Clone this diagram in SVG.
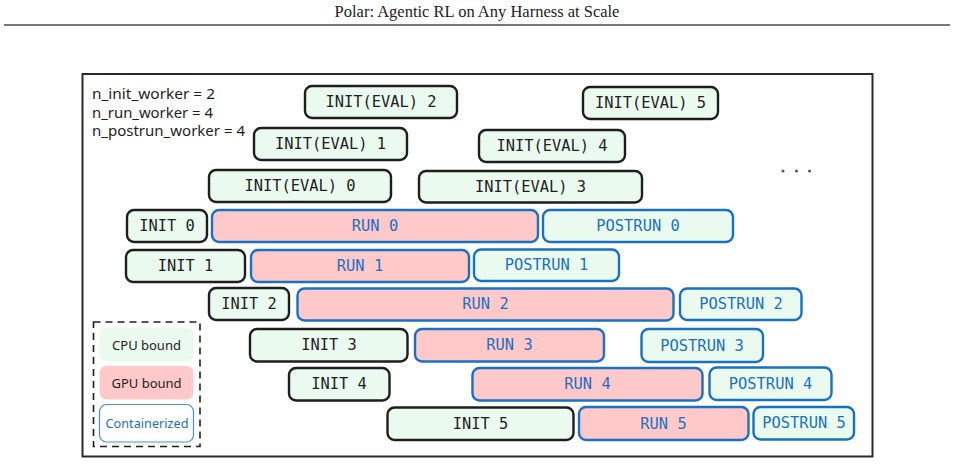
<svg xmlns="http://www.w3.org/2000/svg" width="955" height="465" viewBox="0 0 955 465">
<style>
.cpu{fill:#ebfaef;stroke:#1e1e1e;stroke-width:2.4}
.gpu{fill:#ffc9c9;stroke:#1971c2;stroke-width:2.4}
.post{fill:#ebfaef;stroke:#1971c2;stroke-width:2.4}
.t{font-family:"DejaVu Sans Mono","Liberation Mono",monospace;font-size:15.4px;text-anchor:middle;dominant-baseline:central}
.tk{fill:#1e1e1e}
.tb{fill:#1971c2}
.note{font-family:"Noto Sans","Liberation Sans",sans-serif;font-size:14px;fill:#1e1e1e}
.leg{font-family:"Noto Sans","Liberation Sans",sans-serif;font-size:13px;text-anchor:middle;dominant-baseline:central}
</style>
<rect width="955" height="465" fill="#ffffff"/>
<text x="477" y="17" font-family="Liberation Serif,serif" font-size="16.5" text-anchor="middle" fill="#222">Polar: Agentic RL on Any Harness at Scale</text>
<line x1="4" y1="25" x2="950" y2="25" stroke="#777" stroke-width="2"/>
<rect x="82.5" y="74" width="790" height="382.5" fill="none" stroke="#2a2a2a" stroke-width="2"/>
<g id="params">
<text class="note" x="92" y="99" textLength="123" lengthAdjust="spacingAndGlyphs">n_init_worker = 2</text>
<text class="note" x="92" y="117.5" textLength="121" lengthAdjust="spacingAndGlyphs">n_run_worker = 4</text>
<text class="note" x="92" y="135.5" textLength="153" lengthAdjust="spacingAndGlyphs">n_postrun_worker = 4</text>
</g>
<g id="eval2"><rect class="cpu" x="305" y="86" width="152" height="32" rx="7"/><text class="t tk" x="381" y="102">INIT(EVAL) 2</text></g>
<g id="eval5"><rect class="cpu" x="583" y="87" width="135" height="32" rx="7"/><text class="t tk" x="650.5" y="103">INIT(EVAL) 5</text></g>
<g id="eval1"><rect class="cpu" x="254" y="128" width="153" height="32" rx="7"/><text class="t tk" x="330.5" y="144">INIT(EVAL) 1</text></g>
<g id="eval4"><rect class="cpu" x="479" y="130" width="146" height="32" rx="7"/><text class="t tk" x="552" y="146">INIT(EVAL) 4</text></g>
<g id="eval0"><rect class="cpu" x="209" y="170" width="182" height="32" rx="7"/><text class="t tk" x="300" y="186">INIT(EVAL) 0</text></g>
<g id="eval3"><rect class="cpu" x="419" y="171" width="223" height="31.5" rx="7"/><text class="t tk" x="530.5" y="187">INIT(EVAL) 3</text></g>
<g id="ellipsis" fill="#555"><circle cx="783" cy="171" r="1.5"/><circle cx="796.5" cy="171" r="1.5"/><circle cx="809.5" cy="171" r="1.5"/></g>

<g id="init0"><rect class="cpu" x="127" y="210" width="80" height="32" rx="7"/><text class="t tk" x="167" y="226">INIT 0</text></g>
<g id="run0"><rect class="gpu" x="212" y="210" width="326" height="32" rx="7"/><text class="t tb" x="375" y="226">RUN 0</text></g>
<g id="post0"><rect class="post" x="543" y="210" width="190" height="32" rx="7"/><text class="t tb" x="638" y="226">POSTRUN 0</text></g>

<g id="init1"><rect class="cpu" x="126" y="250" width="119" height="32" rx="7"/><text class="t tk" x="185.5" y="266">INIT 1</text></g>
<g id="run1"><rect class="gpu" x="251" y="250" width="218" height="32" rx="7"/><text class="t tb" x="360" y="266">RUN 1</text></g>
<g id="post1"><rect class="post" x="474" y="249.5" width="145" height="31.5" rx="7"/><text class="t tb" x="546.5" y="265">POSTRUN 1</text></g>

<g id="init2"><rect class="cpu" x="209" y="288" width="80" height="32" rx="7"/><text class="t tk" x="249" y="304">INIT 2</text></g>
<g id="run2"><rect class="gpu" x="297.5" y="288.5" width="376" height="32" rx="7"/><text class="t tb" x="485.5" y="304">RUN 2</text></g>
<g id="post2"><rect class="post" x="680" y="288.5" width="121.5" height="31.5" rx="7"/><text class="t tb" x="741" y="304">POSTRUN 2</text></g>

<g id="init3"><rect class="cpu" x="250" y="329" width="157.5" height="32.5" rx="7"/><text class="t tk" x="329" y="345">INIT 3</text></g>
<g id="run3"><rect class="gpu" x="415" y="329" width="189" height="32.5" rx="7"/><text class="t tb" x="509.5" y="345">RUN 3</text></g>
<g id="post3"><rect class="post" x="641.5" y="329" width="121.5" height="33" rx="7"/><text class="t tb" x="702" y="345.5">POSTRUN 3</text></g>

<g id="init4"><rect class="cpu" x="289" y="368" width="100.5" height="32.5" rx="7"/><text class="t tk" x="339" y="384">INIT 4</text></g>
<g id="run4"><rect class="gpu" x="472.5" y="368" width="230" height="32.5" rx="7"/><text class="t tb" x="587.5" y="384">RUN 4</text></g>
<g id="post4"><rect class="post" x="709.5" y="367.5" width="122" height="32.5" rx="7"/><text class="t tb" x="770.5" y="383.5">POSTRUN 4</text></g>

<g id="init5"><rect class="cpu" x="387.5" y="407.5" width="186" height="32.5" rx="7"/><text class="t tk" x="480.5" y="423.5">INIT 5</text></g>
<g id="run5"><rect class="gpu" x="579" y="407" width="169.5" height="33" rx="7"/><text class="t tb" x="663.5" y="423.5">RUN 5</text></g>
<g id="post5"><rect class="post" x="753.5" y="407" width="100.5" height="32.5" rx="7"/><text class="t tb" x="804" y="423">POSTRUN 5</text></g>

<g id="legend">
<rect x="93.5" y="322" width="106.5" height="124.5" fill="none" stroke="#1e1e1e" stroke-width="1.6" stroke-dasharray="7 5"/>
<rect x="99.5" y="327.5" width="94" height="33.5" rx="7" fill="#ebfaef"/>
<text class="leg" x="146.5" y="344.5" fill="#1e1e1e">CPU bound</text>
<rect x="99.5" y="366" width="94" height="33.5" rx="7" fill="#ffc9c9"/>
<text class="leg" x="146.5" y="382.5" fill="#1e1e1e">GPU bound</text>
<rect x="99.5" y="404.5" width="94" height="37.5" rx="7" fill="#ffffff" stroke="#4a8fd6" stroke-width="1.2"/>
<text class="leg" x="147" y="423" fill="#1971c2" textLength="83" lengthAdjust="spacingAndGlyphs">Containerized</text>
</g>
</svg>
